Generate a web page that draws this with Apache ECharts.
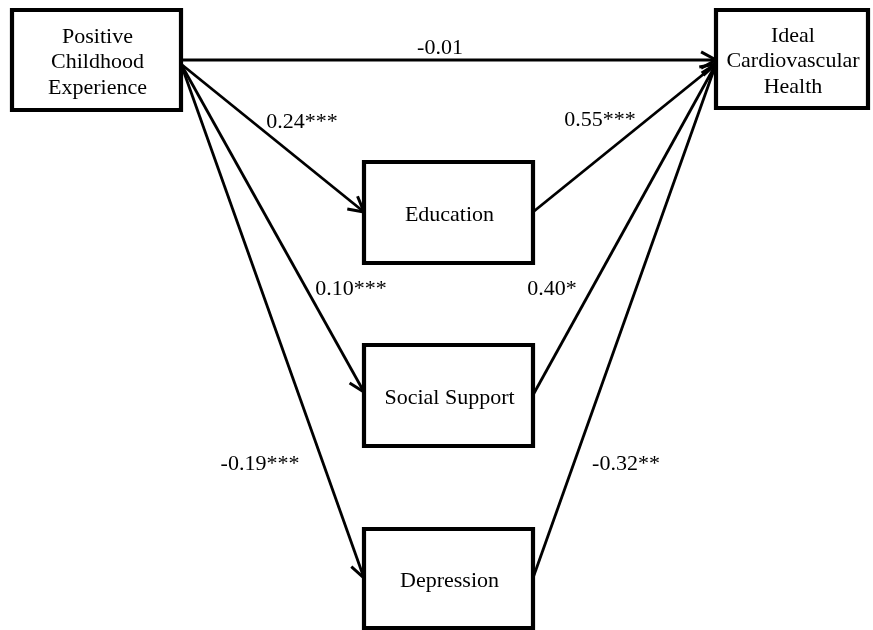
<!DOCTYPE html>
<html>
<head>
<meta charset="utf-8">
<script src="https://cdn.jsdelivr.net/npm/echarts@6/dist/echarts.min.js"></script>
<style>
html,body{margin:0;padding:0;background:#fff;}
#chart{width:873px;height:630px;}
</style>
</head>
<body>
<div id="chart"></div>
<script>
// Node names
const nodeNames = ['Positive\nChildhood\nExperience', 'Ideal\nCardiovascular\nHealth', 'Education', 'Social Support', 'Depression'];
// Node box extents in diagram units (left, right, top, bottom)
const nodeLeft   = [12, 716, 364, 364, 364];
const nodeRight  = [181, 868, 533, 533, 533];
const nodeTop    = [10, 10, 162, 345, 529];
const nodeBottom = [110, 108, 263, 446, 628];

// Paths: source -> target, with coefficient labels
const edgeFrom = [0, 0, 0, 0, 2, 3, 4];
const edgeTo   = [1, 2, 3, 4, 1, 1, 1];
const edgeSrcY = [60, 64, 64, 64, 212, 395, 578];
const edgeDstY = [60, 212, 392, 578, 64, 64, 64];
const coefLabels = ['-0.01', '0.24***', '0.10***', '-0.19***', '0.55***', '0.40*', '-0.32**'];
const labelX = [440, 302, 351, 260, 600, 552, 626];
const labelY = [48, 122, 289, 464, 120, 289, 464];

const FONT = '"Liberation Serif", "Times New Roman", serif';

const boxData = nodeNames.map((n, i) => [nodeLeft[i], nodeTop[i], nodeRight[i], nodeBottom[i], n]);
const edgeData = edgeFrom.map((s, i) => [nodeRight[s], edgeSrcY[i], nodeLeft[edgeTo[i]], edgeDstY[i]]);
const labelData = coefLabels.map((t, i) => [labelX[i], labelY[i], t]);

const chart = echarts.init(document.getElementById('chart'));
chart.setOption({
  backgroundColor: '#fff',
  animation: false,
  grid: {left: 0, right: 0, top: 0, bottom: 0},
  xAxis: {type: 'value', min: 0, max: 873, show: false},
  yAxis: {type: 'value', min: 0, max: 630, inverse: true, show: false},
  series: [
    {
      type: 'custom',
      data: edgeData,
      encode: {x: [0, 2], y: [1, 3]},
      renderItem: function (params, api) {
        const a = api.coord([api.value(0), api.value(1)]);
        const b = api.coord([api.value(2), api.value(3)]);
        const ang = Math.atan2(b[1] - a[1], b[0] - a[0]);
        const L = 17, h = 0.5;
        const p1 = [b[0] - L * Math.cos(ang - h), b[1] - L * Math.sin(ang - h)];
        const p2 = [b[0] - L * Math.cos(ang + h), b[1] - L * Math.sin(ang + h)];
        return {
          type: 'group',
          children: [
            {type: 'line', shape: {x1: a[0], y1: a[1], x2: b[0], y2: b[1]}, style: {stroke: '#000', lineWidth: 2.8}},
            {type: 'polyline', shape: {points: [p1, b, p2]}, style: {stroke: '#000', lineWidth: 3, fill: null, lineJoin: 'miter'}}
          ]
        };
      }
    },
    {
      type: 'custom',
      data: boxData,
      encode: {x: [0, 2], y: [1, 3]},
      renderItem: function (params, api) {
        const p0 = api.coord([api.value(0), api.value(1)]);
        const p1 = api.coord([api.value(2), api.value(3)]);
        const name = boxData[params.dataIndex][4];
        return {
          type: 'group',
          children: [
            {type: 'rect', shape: {x: p0[0], y: p0[1], width: p1[0] - p0[0], height: p1[1] - p0[1]},
             style: {fill: '#fff', stroke: '#000', lineWidth: 4.2}},
            {type: 'text', x: (p0[0] + p1[0]) / 2 + 1, y: (p0[1] + p1[1]) / 2 + 2.5,
             style: {text: name, fill: '#000', font: '22px ' + FONT, align: 'center', verticalAlign: 'middle', lineHeight: 25.5}}
          ]
        };
      }
    },
    {
      type: 'custom',
      data: labelData,
      encode: {x: 0, y: 1},
      renderItem: function (params, api) {
        const p = api.coord([api.value(0), api.value(1)]);
        return {type: 'text', x: p[0], y: p[1],
          style: {text: labelData[params.dataIndex][2], fill: '#000', font: '22px ' + FONT, align: 'center', verticalAlign: 'middle'}};
      }
    }
  ]
});
</script>
</body>
</html>
